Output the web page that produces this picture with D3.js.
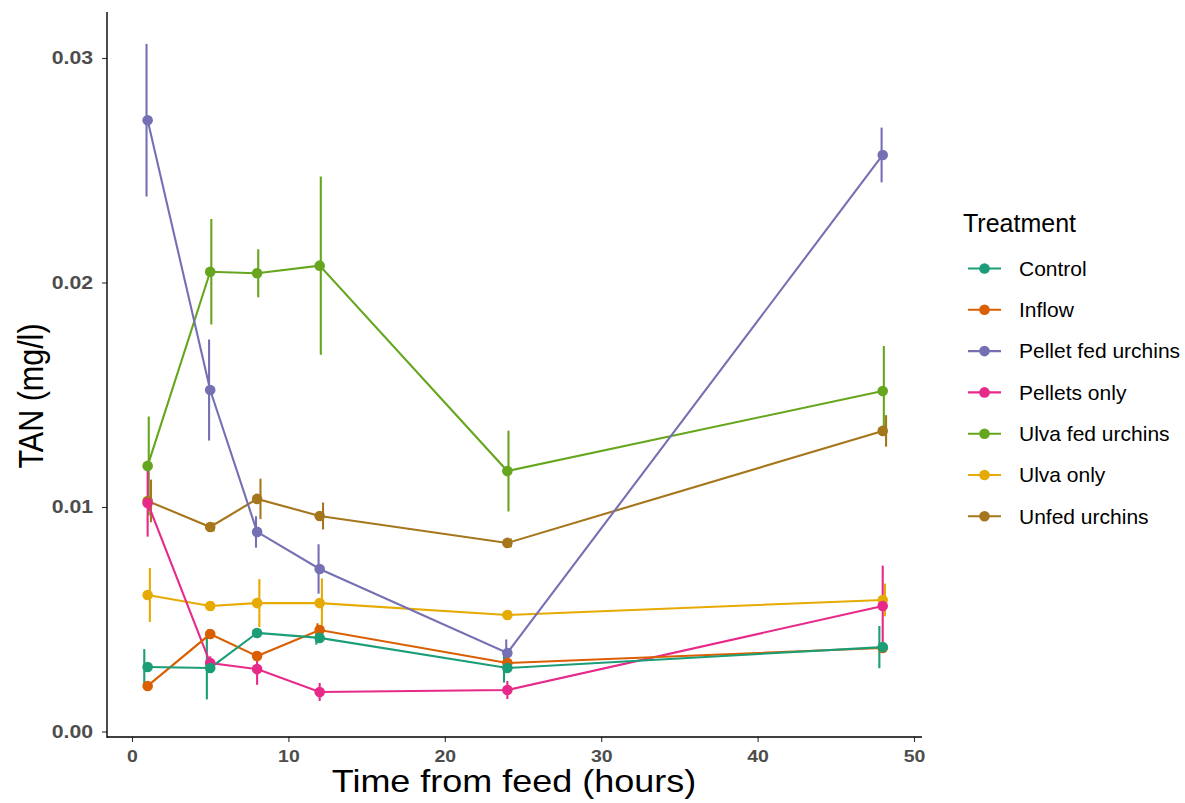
<!DOCTYPE html>
<html>
<head>
<meta charset="utf-8">
<script src="https://cdn.jsdelivr.net/npm/d3@7"></script>
<style>
  body { margin: 0; background: #fff; }
  svg { display: block; }
  text { font-family: "Liberation Sans", Arial, sans-serif; }
</style>
</head>
<body>
<svg id="chart" width="1185" height="803"></svg>
<script>
// Data
var times = [1, 5, 8, 12, 24, 48];
var treatments = ['Control', 'Inflow', 'Pellet fed urchins', 'Pellets only',
                  'Ulva fed urchins', 'Ulva only', 'Unfed urchins'];
var palette = ['#1B9E77', '#D95F02', '#7570B3', '#E7298A', '#66A61E', '#E6AB02', '#A6761D'];

var tanControl     = [0.00287, 0.00283, 0.00439, 0.00417, 0.00283, 0.00376];
var tanInflow      = [0.00203, 0.00434, 0.00336, 0.00452, 0.00305, 0.00372];
var tanPelletFed   = [0.02723, 0.01521, 0.00889, 0.00724, 0.00350, 0.02568];
var tanPelletsOnly = [0.01018, 0.00305, 0.00278, 0.00176, 0.00185, 0.00559];
var tanUlvaFed     = [0.01183, 0.02048, 0.02041, 0.02075, 0.01160, 0.01517];
var tanUlvaOnly    = [0.00608, 0.00559, 0.00572, 0.00572, 0.00519, 0.00586];
var tanUnfed       = [0.01027, 0.00911, 0.01036, 0.00960, 0.00840, 0.01339];

var seControl     = [0.00080, 0.00140, 0.00015, 0.00030, 0.00065, 0.00094];
var seInflow      = [0.00010, 0.00020, 0.00020, 0.00030, 0.00020, 0.00020];
var sePelletFed   = [0.00340, 0.00225, 0.00070, 0.00110, 0.00060, 0.00122];
var sePelletsOnly = [0.00150, 0.00030, 0.00070, 0.00040, 0.00040, 0.00180];
var seUlvaFed     = [0.00220, 0.00235, 0.00107, 0.00397, 0.00180, 0.00200];
var seUlvaOnly    = [0.00120, 0.00020, 0.00107, 0.00110, 0.00020, 0.00073];
var seUnfed       = [0.00095, 0.00020, 0.00090, 0.00060, 0.00020, 0.00070];

var xTicks = [0, 10, 20, 30, 40, 50];
var yTicks = [0, 0.01, 0.02, 0.03];

var means = [tanControl, tanInflow, tanPelletFed, tanPelletsOnly, tanUlvaFed, tanUlvaOnly, tanUnfed];
var errors = [seControl, seInflow, sePelletFed, sePelletsOnly, seUlvaFed, seUlvaOnly, seUnfed];

var series = treatments.map(function (name, i) {
  return {
    name: name,
    index: i,
    color: palette[i],
    values: times.map(function (t, j) {
      return { t: t, mean: means[i][j], se: errors[i][j] };
    })
  };
});

// the picture is wider than it is tall, so axis text is stretched sideways
var SX = 1.18;
var dodge = 0.5;

var svg = d3.select('#chart');
var panel = { left: 107, right: 922, top: 12, bottom: 737 };

var xScale = d3.scaleLinear().domain([0, 50]).range([132, 914]);
var yScale = d3.scaleLinear().domain([0, 0.03]).range([731.5, 58]);

var drawOrder = series.slice().reverse();

// error bars (dodged by treatment)
var bars = svg.append('g');
drawOrder.forEach(function (s) {
  var off = (s.index - (treatments.length - 1) / 2) * dodge / treatments.length;
  bars.selectAll(null)
      .data(s.values)
      .enter()
    .append('line')
      .attr('x1', function (d) { return xScale(d.t + off); })
      .attr('x2', function (d) { return xScale(d.t + off); })
      .attr('y1', function (d) { return yScale(d.mean - d.se); })
      .attr('y2', function (d) { return yScale(d.mean + d.se); })
      .attr('stroke', s.color)
      .attr('stroke-width', 2.1);
});

// lines
var line = d3.line()
  .x(function (d) { return xScale(d.t); })
  .y(function (d) { return yScale(d.mean); });

svg.append('g').selectAll('path')
    .data(drawOrder)
    .enter()
  .append('path')
    .attr('d', function (d) { return line(d.values); })
    .attr('fill', 'none')
    .attr('stroke', function (d) { return d.color; })
    .attr('stroke-width', 2.1);

// points
var pts = svg.append('g');
drawOrder.forEach(function (s) {
  pts.selectAll(null)
      .data(s.values)
      .enter()
    .append('circle')
      .attr('cx', function (d) { return xScale(d.t); })
      .attr('cy', function (d) { return yScale(d.mean); })
      .attr('r', 5.3)
      .attr('fill', s.color);
});

// axes
var xAxis = d3.axisBottom(xScale).tickValues(xTicks).tickSize(5).tickPadding(8);
var gx = svg.append('g')
    .attr('transform', 'translate(0,' + panel.bottom + ')')
    .call(xAxis);
gx.select('.domain').remove();
gx.selectAll('.tick line').attr('stroke', '#333').attr('stroke-width', 1.1);
gx.selectAll('.tick text')
    .attr('transform', 'scale(' + SX + ',1)')
    .attr('fill', '#4D4D4D')
    .attr('font-weight', 'bold')
    .attr('font-size', 16.5);

var yAxis = d3.axisLeft(yScale).tickValues(yTicks).tickFormat(d3.format('.2f')).tickSize(5).tickPadding(9);
var gy = svg.append('g')
    .attr('transform', 'translate(' + panel.left + ',0)')
    .call(yAxis);
gy.select('.domain').remove();
gy.selectAll('.tick line').attr('stroke', '#333').attr('stroke-width', 1.1);
gy.selectAll('.tick text')
    .attr('x', -14 / SX)
    .attr('transform', 'scale(' + SX + ',1)')
    .attr('fill', '#4D4D4D')
    .attr('font-weight', 'bold')
    .attr('font-size', 18);

svg.append('line')
    .attr('x1', panel.left).attr('x2', panel.right)
    .attr('y1', panel.bottom).attr('y2', panel.bottom)
    .attr('stroke', '#000').attr('stroke-width', 1.4);
svg.append('line')
    .attr('x1', panel.left).attr('x2', panel.left)
    .attr('y1', panel.top).attr('y2', panel.bottom + 0.7)
    .attr('stroke', '#000').attr('stroke-width', 1.4);

// axis titles
svg.append('text')
    .attr('transform', 'translate(514,792) scale(' + SX + ',1)')
    .attr('text-anchor', 'middle')
    .attr('font-size', 30.5)
    .text('Time from feed (hours)');

svg.append('text')
    .attr('transform', 'translate(43,396) scale(' + SX + ',1) rotate(-90)')
    .attr('text-anchor', 'middle')
    .attr('font-size', 30.5)
    .text('TAN (mg/l)');

// legend
var legend = svg.append('g');
legend.append('text')
    .attr('x', 963)
    .attr('y', 232)
    .attr('font-size', 25)
    .text('Treatment');

var item = legend.selectAll('.item')
    .data(series)
    .enter()
  .append('g')
    .attr('class', 'item')
    .attr('transform', function (d, i) { return 'translate(0,' + (268.5 + i * 41.3) + ')'; });

item.append('line')
    .attr('x1', 968).attr('x2', 1001)
    .attr('stroke', function (d) { return d.color; })
    .attr('stroke-width', 2.1);
item.append('circle')
    .attr('cx', 984.5)
    .attr('r', 5.3)
    .attr('fill', function (d) { return d.color; });
item.append('text')
    .attr('x', 1019)
    .attr('dy', '0.35em')
    .attr('font-size', 21)
    .text(function (d) { return d.name; });
</script>
</body>
</html>
